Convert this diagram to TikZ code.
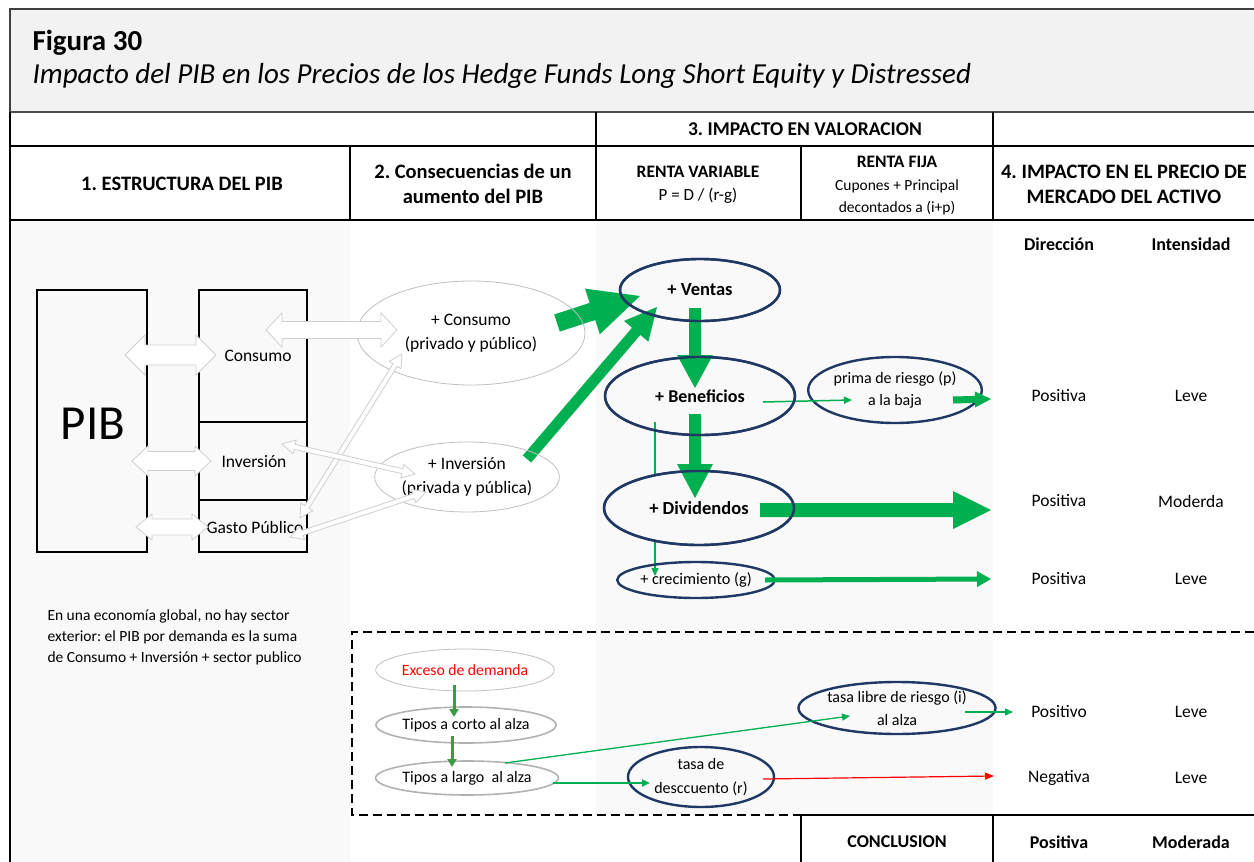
\documentclass[tikz,border=0pt]{standalone}
\usepackage{fontspec}
\setmainfont{Carlito}
\usetikzlibrary{calc,arrows.meta,shapes.geometric}
\frenchspacing

\definecolor{xgreen}{HTML}{00B050}
\definecolor{dgreen}{HTML}{3D9B47}
\definecolor{navy}{HTML}{1F3864}
\definecolor{titlebg}{HTML}{F2F2F2}
\definecolor{colbg}{HTML}{F9F9F9}
\definecolor{hollowline}{HTML}{CFCFCF}

\newcommand\fsz[2]{\fontsize{#1}{#2}\selectfont}

% filled block arrow: style, start, end, shaft half-width, head half-width, head length
\newcommand\blockarrow[6]{%
  \path[#1] let \p1=($(#3)-(#2)$), \n1={atan2(\y1,\x1)}, \n2={veclen(\x1,\y1)} in
    [shift={(#2)}, rotate=\n1]
    (0pt,#4pt) -- ({\n2-#6pt},#4pt) -- ({\n2-#6pt},#5pt) -- ({\n2+0pt},0pt)
    -- ({\n2-#6pt},-#5pt) -- ({\n2-#6pt},-#4pt) -- (0pt,-#4pt) -- cycle;}

% two-headed block arrow: style, start, end, shaft half-width, head half-width, head length
\newcommand\twoheadarrow[6]{%
  \path[#1] let \p1=($(#3)-(#2)$), \n1={atan2(\y1,\x1)}, \n2={veclen(\x1,\y1)} in
    [shift={(#2)}, rotate=\n1]
    (0pt,0pt) -- (#6pt,#5pt) -- (#6pt,#4pt) -- ({\n2-#6pt},#4pt) -- ({\n2-#6pt},#5pt)
    -- ({\n2+0pt},0pt) -- ({\n2-#6pt},-#5pt) -- ({\n2-#6pt},-#4pt) -- (#6pt,-#4pt)
    -- (#6pt,-#5pt) -- cycle;}

\tikzset{
  rule/.style={line width=2.6pt, black},
  hollow/.style={fill=white, draw=hollowline, line width=0.8pt},
  solidgreen/.style={fill=xgreen},
  navyell/.style={ellipse, draw=navy, line width=2.4pt, inner sep=0pt, align=center},
  grayell/.style={ellipse, draw=black!25, line width=0.8pt, inner sep=0pt, align=center},
  softell/.style={ellipse, draw=black!30, line width=1.6pt, inner sep=0pt, align=center},
  compbox/.style={draw, line width=2.6pt, inner sep=0pt},
  thingreen/.style={draw=xgreen, line width=1.5pt, -{Triangle[length=8pt,width=7pt]}},
  stepgreen/.style={draw=dgreen, line width=3pt, -{Triangle[length=8pt,width=9pt]}},
  redline/.style={draw=red, line width=1.2pt, -{Triangle[length=9pt,width=7pt]}},
  hdr/.style={font=\fsz{20.5}{25}\bfseries, align=center},
  cell/.style={font=\fsz{17.5}{20}},
  cellb/.style={font=\fsz{18}{20}\bfseries},
}

\begin{document}
\begin{tikzpicture}[x=1pt,y=-1pt]
\useasboundingbox (0,0) rectangle (1254,862);

% backgrounds
\fill[white] (0,0) rectangle (1254,862);
\fill[titlebg] (10,9) rectangle (1254,112);
\fill[colbg] (12,220) rectangle (350,862);
\fill[colbg] (596,220) rectangle (993,815);

% caption
\node[anchor=base west, font=\fsz{29}{34}\bfseries] (fig) at (29,50) {Figura 30};
\node[anchor=base west, font=\fsz{29}{34}\itshape] (subt) at (29,83)
  {Impacto del PIB en los Precios de los Hedge Funds Long Short Equity y Distressed};

% table frame
\draw[black!75, line width=1.5pt] (1254,9) -- (10,9) -- (10,112);
\draw[black!70, line width=1.2pt] (10,112) -- (1254,112);
\draw[rule] (10,112) -- (10,862);
\draw[rule] (10,146) -- (1254,146);
\draw[rule] (10,220) -- (1254,220);
\draw[rule] (350,146) -- (350,220);
\draw[rule] (596,112) -- (596,220);
\draw[rule] (801,146) -- (801,220);
\draw[rule] (993,112) -- (993,220);
\draw[rule, dash pattern=on 9pt off 5pt] (1254,632) -- (352,632) -- (352,815) -- (801,815);
\draw[rule] (801,862) -- (801,815) -- (1254,815);
\draw[rule] (993,815) -- (993,862);

% header cells
\node[font=\fsz{19.5}{25}\bfseries] (h3) at (805,129) {3. IMPACTO EN VALORACION};
\node[hdr] (h1) at (182,184) {1. ESTRUCTURA DEL PIB};
\node[hdr] (h2) at (473,184) {2. Consecuencias de un\\aumento del PIB};
\node[font=\fsz{17.5}{20}\bfseries] (rv) at (698,172) {RENTA VARIABLE};
\node[font=\fsz{17}{20}] (rvf) at (698,196) {P = D / (r-g)};
\node[font=\fsz{17.5}{20}\bfseries] (rf) at (897,162) {RENTA FIJA};
\node[font=\fsz{15.5}{22}, align=center] (rff) at (897,197) {Cupones + Principal\\decontados a (i+p)};
\node[hdr] (h4) at (1124,184) {4. IMPACTO EN EL PRECIO DE\\MERCADO DEL ACTIVO};
\node[cellb] (dir) at (1059,244) {Dirección};
\node[cellb] (int) at (1191,244) {Intensidad};

% structure of GDP
\node[compbox, minimum width=110pt, minimum height=262pt] (pib) at (92,421) {};
\node[font=\fsz{49}{55}] (pibt) at (93,424) {PIB};
\node[compbox, minimum width=108pt, minimum height=132pt] (bcons) at (253,356) {};
\node[compbox, minimum width=108pt, minimum height=78pt] (binv) at (253,461) {};
\node[compbox, minimum width=108pt, minimum height=52pt] (bgas) at (253,526) {};
\node[cell] (tcons) at (258,356) {Consumo};
\node[cell] (tinv) at (254,462) {Inversión};
\node[cell] (tgas) at (255,527) {Gasto Público};

\node[font=\fsz{15.5}{21}, align=left, anchor=north west] (note) at (44,606)
  {En una economía global, no hay sector\\exterior: el PIB por demanda es la suma\\de Consumo + Inversión + sector publico};

% arrow end points
\coordinate (gc1) at (557,323);  \coordinate (gc2) at (640,296);
\coordinate (gi1) at (527,459);  \coordinate (gi2) at (657,307);
\coordinate (vb1) at (695,308);  \coordinate (vb2) at (695,388);
\coordinate (bd1) at (695,414);  \coordinate (bd2) at (695,498);
\coordinate (dp1) at (760,510);  \coordinate (dp2) at (991,510);
\coordinate (pp1) at (953,400);  \coordinate (pp2) at (991,399);
\coordinate (cp1) at (765,580);  \coordinate (cp2) at (991,579);
\coordinate (bp1) at (763,402);  \coordinate (bp2) at (852,400);
\coordinate (bg1) at (655,422);  \coordinate (bg2) at (655,576);

% green block arrows out of column 2
\blockarrow{solidgreen}{gc1}{gc2}{9}{24}{50}
\blockarrow{solidgreen}{gi1}{gi2}{5.5}{16}{32}

% column 2 ellipses
\node[grayell, minimum width=228pt, minimum height=104pt, font=\fsz{17.5}{24}] (econs) at (471,333) {+ Consumo\\(privado y público)};
\node[grayell, minimum width=166pt, minimum height=70pt, font=\fsz{17.5}{24}] (einv) at (467,477) {+ Inversión\\(privada y pública)};

% line from profits to growth, passing behind dividends
\draw[thingreen] (bg1) -- (bg2);

% column 3 ellipses
\node[navyell, minimum width=160pt, minimum height=62pt, font=\fsz{18.5}{20}\bfseries] (ven) at (700,290) {+ Ventas};
\node[navyell, minimum width=190pt, minimum height=78pt, font=\fsz{18}{20}\bfseries] (ben) at (700,396) {+ Beneficios};
\node[navyell, fill=colbg, minimum width=190pt, minimum height=74pt, font=\fsz{18.5}{20}\bfseries] (div) at (699,508) {+ Dividendos};
\node[navyell, minimum width=132pt, minimum height=36pt, font=\fsz{16.3}{20}] (crec) at (696,580) {+ crecimiento (g)};
\node[navyell, minimum width=140pt, minimum height=66pt, font=\fsz{16}{22}] (prima) at (895,390) {prima de riesgo (p)\\a la baja};

% green block arrows in column 3
\blockarrow{solidgreen}{vb1}{vb2}{6}{18}{33}
\blockarrow{solidgreen}{bd1}{bd2}{6}{18}{34}
\blockarrow{solidgreen}{dp1}{dp2}{7}{19}{38}
\blockarrow{solidgreen}{pp1}{pp2}{3.5}{8}{16}
\blockarrow{solidgreen}{cp1}{cp2}{2.5}{8}{14}
\draw[thingreen] (bp1) -- (bp2);

% outlines kept above the arrows
\foreach \n/\rx/\ry in {ven/80/31, ben/95/39, div/95/37}
  \draw[navy, line width=2.4pt] (\n.center) ellipse [x radius=\rx pt, y radius=\ry pt];

% results
\node[cell] (r1a) at (1059,396) {Positiva};   \node[cell] (r1b) at (1191,396) {Leve};
\node[cell] (r2a) at (1059,501) {Positiva};   \node[cell] (r2b) at (1191,501) {Moderda};
\node[cell] (r3a) at (1059,579) {Positiva};   \node[cell] (r3b) at (1191,579) {Leve};
\node[cell] (r4a) at (1059,712) {Positivo};   \node[cell] (r4b) at (1191,712) {Leve};
\node[cell] (r5a) at (1059,778) {Negativa};   \node[cell] (r5b) at (1191,778) {Leve};
\node[cellb] (conc) at (897,842) {CONCLUSION};
\node[cellb] (c1) at (1059,842) {Positiva};
\node[cellb] (c2) at (1191,842) {Moderada};

% interest-rate channel
\node[grayell, minimum width=154pt, minimum height=42pt, font=\fsz{15.7}{20}, text=red] (exc) at (465,670) {Exceso de demanda};
\node[softell, minimum width=168pt, minimum height=36pt, font=\fsz{16}{20}] (tcor) at (466,725) {Tipos a corto al alza};
\node[softell, minimum width=178pt, minimum height=34pt, font=\fsz{16}{20}] (tlar) at (467,778) {Tipos a largo\ \ al alza};
\node[navyell, minimum width=146pt, minimum height=60pt, font=\fsz{16}{24}] (tdes) at (701,777) {tasa de\\desccuento (r)};
\node[navyell, minimum width=160pt, minimum height=52pt, font=\fsz{16}{23}] (tlib) at (897,708) {tasa libre de riesgo (i)\\al alza};

\coordinate (ec1) at (454,685);  \coordinate (ec2) at (454,717);
\coordinate (cl1) at (452,736);  \coordinate (cl2) at (452,767);
\coordinate (ld1) at (553,783);  \coordinate (ld2) at (650,783);
\coordinate (li1) at (505,763);  \coordinate (li2) at (850,716);
\coordinate (lp1) at (965,712);  \coordinate (lp2) at (1013,712);
\coordinate (dn1) at (763,779);  \coordinate (dn2) at (994,776);

\draw[stepgreen] (ec1) -- (ec2);
\draw[stepgreen] (cl1) -- (cl2);
\draw[thingreen, line width=2pt] (ld1) -- (ld2);
\draw[thingreen, line width=1.3pt] (li1) -- (li2);
\draw[thingreen, line width=1.3pt] (lp1) -- (lp2);
\draw[redline] (dn1) -- (dn2);

% hollow links between the GDP parts and their increases
\coordinate (pc1) at (125,355);  \coordinate (pc2) at (216,355);
\coordinate (pi1) at (132,461);  \coordinate (pi2) at (211,461);
\coordinate (pg1) at (136,527);  \coordinate (pg2) at (208,527);
\coordinate (cc1) at (266,330);  \coordinate (cc2) at (397,330);
\coordinate (gcx1) at (300,518); \coordinate (gcx2) at (402,354);
\coordinate (iix1) at (282,444); \coordinate (iix2) at (415,474);
\coordinate (gix1) at (290,537); \coordinate (gix2) at (426,492);

\twoheadarrow{hollow}{pc1}{pc2}{10}{20}{20}
\twoheadarrow{hollow}{pi1}{pi2}{9.5}{15}{16}
\twoheadarrow{hollow}{pg1}{pg2}{8}{13}{16}
\twoheadarrow{hollow}{cc1}{cc2}{8.5}{17}{16}
\twoheadarrow{hollow}{gcx1}{gcx2}{2.5}{7}{13}
\twoheadarrow{hollow}{iix1}{iix2}{2.5}{7}{13}
\twoheadarrow{hollow}{gix1}{gix2}{2.5}{7}{13}
\end{tikzpicture}
\end{document}
